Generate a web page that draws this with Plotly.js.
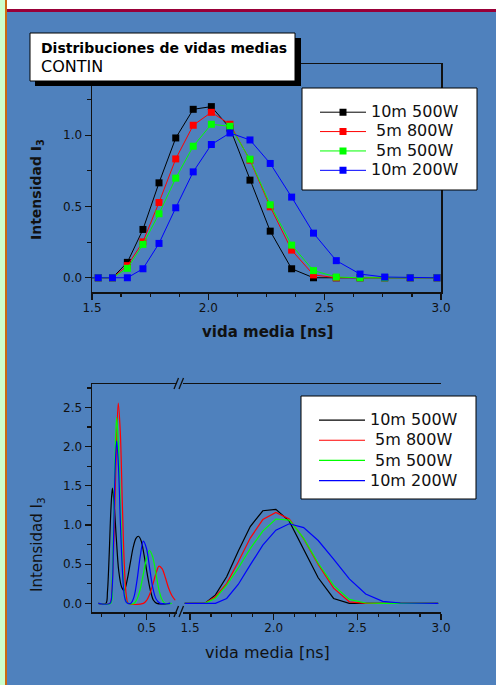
<!DOCTYPE html>
<html>
<head>
<meta charset="utf-8">
<script src="https://cdn.plot.ly/plotly-3.0.1.min.js"></script>
<style>html,body{margin:0;padding:0;background:#4F81BD;}#chart{width:496px;height:685px;}</style>
</head>
<body>
<div id="chart"></div>
<script>
// ---- data ----
const seriesNames = ["10m 500W", "5m 800W", "5m 500W", "10m 200W"];
const seriesColors = ["#000000", "#FF0000", "#00FF00", "#0000FF"];

// CONTIN lifetime grid (ns), long-lifetime component
const tauLong = [1.468, 1.527, 1.588, 1.652, 1.719, 1.788, 1.860, 1.935, 2.013, 2.093, 2.179, 2.266, 2.358, 2.452, 2.550, 2.652, 2.758, 2.868, 2.983];
const long10m500 = [0, 0, 0, 0.108, 0.339, 0.666, 0.981, 1.182, 1.201, 1.050, 0.685, 0.327, 0.063, 0, 0, 0, 0, 0, 0];
const long5m800  = [0, 0, 0, 0.085, 0.252, 0.528, 0.834, 1.070, 1.161, 1.077, 0.825, 0.498, 0.194, 0.020, 0, 0, 0, 0, 0];
const long5m500  = [0, 0, 0, 0.066, 0.234, 0.449, 0.699, 0.923, 1.077, 1.063, 0.832, 0.512, 0.229, 0.050, 0.005, 0, 0, 0, 0];
const long10m200 = [0, 0, 0, 0, 0.063, 0.241, 0.491, 0.743, 0.935, 1.016, 0.967, 0.802, 0.566, 0.313, 0.120, 0.026, 0.005, 0, 0];

// short-lifetime components (ns)
const tauShort10m500 = [0.284, 0.318, 0.325, 0.333, 0.340, 0.347, 0.355, 0.364, 0.375, 0.388, 0.400, 0.413, 0.427, 0.440, 0.452, 0.463, 0.475, 0.488, 0.502, 0.516, 0.530, 0.545, 0.605];
const short10m500    = [0, 0, 0.15, 0.65, 1.18, 1.47, 1.25, 0.85, 0.42, 0.21, 0.165, 0.30, 0.52, 0.72, 0.83, 0.857, 0.80, 0.62, 0.38, 0.17, 0.04, 0, 0];
const tauShort5m800  = [0.284, 0.336, 0.345, 0.354, 0.364, 0.373, 0.382, 0.391, 0.400, 0.409, 0.418, 0.485, 0.500, 0.515, 0.528, 0.541, 0.555, 0.569, 0.583, 0.597, 0.612, 0.627];
const short5m800     = [0, 0, 0.20, 0.85, 1.90, 2.556, 2.20, 1.30, 0.50, 0.10, 0, 0, 0.04, 0.13, 0.25, 0.38, 0.475, 0.44, 0.33, 0.20, 0.10, 0.04];
const tauShort5m500  = [0.284, 0.339, 0.346, 0.353, 0.360, 0.366, 0.374, 0.383, 0.392, 0.400, 0.409, 0.418, 0.443, 0.456, 0.470, 0.484, 0.498, 0.512, 0.526, 0.540, 0.554, 0.568, 0.582, 0.612];
const short5m500     = [0, 0, 0.30, 1.10, 2.00, 2.373, 2.00, 1.20, 0.50, 0.15, 0.02, 0, 0, 0.05, 0.17, 0.36, 0.56, 0.675, 0.60, 0.40, 0.18, 0.05, 0, 0];
const tauShort10m200 = [0.284, 0.336, 0.345, 0.352, 0.359, 0.366, 0.374, 0.383, 0.392, 0.400, 0.408, 0.416, 0.429, 0.443, 0.457, 0.471, 0.485, 0.499, 0.513, 0.527, 0.541, 0.560, 0.605];
const short10m200    = [0, 0, 0.15, 0.80, 1.70, 2.076, 1.75, 1.00, 0.40, 0.10, 0.02, 0, 0, 0.08, 0.30, 0.60, 0.794, 0.70, 0.45, 0.20, 0.06, 0, 0];

const xTopTicks = [1.5, 2.0, 2.5, 3.0];
const yTopTicks = [0.0, 0.5, 1.0];
const yBotTicks = [0.0, 0.5, 1.0, 1.5, 2.0, 2.5];

// ---- layout helpers (page pixels -> paper) ----
const W = 496, H = 685;
const px = v => v / W;
const py = v => 1 - v / H;
const FONT = "DejaVu Sans";
const INK = "#111111";

const longY = [long10m500, long5m800, long5m500, long10m200];
const shortX = [tauShort10m500, tauShort5m800, tauShort5m500, tauShort10m200];
const shortY = [short10m500, short5m800, short5m500, short10m200];

const legendLabel = i => '<span style="font-size:16px">' + ((i === 0 || i === 3) ? "" : "\u00a0") + seriesNames[i] + "</span>";

const traces = [];
for (let i = 0; i < 4; i++) {
  traces.push({
    x: tauLong, y: longY[i], xaxis: "x", yaxis: "y", type: "scatter", mode: "lines+markers",
    name: legendLabel(i),
    line: {color: seriesColors[i], width: 1},
    marker: {symbol: "square", size: 7, color: seriesColors[i]},
    legend: "legend", showlegend: true
  });
}
for (let i = 0; i < 4; i++) {
  traces.push({
    x: shortX[i], y: shortY[i], xaxis: "x3", yaxis: "y3", type: "scatter", mode: "lines",
    line: {color: seriesColors[i], width: 1.2, shape: "spline", smoothing: 0.9},
    showlegend: false, hoverinfo: "skip"
  });
}
for (let i = 0; i < 4; i++) {
  traces.push({
    x: tauLong, y: longY[i], xaxis: "x4", yaxis: "y3", type: "scatter", mode: "lines",
    name: legendLabel(i),
    line: {color: seriesColors[i], width: 1.2},
    legend: "legend2", showlegend: true
  });
}

const tickFont = {family: FONT, size: 12, color: INK};
const baseAxis = {
  showgrid: false, zeroline: false, showline: true, linecolor: INK, linewidth: 1.5,
  tickcolor: INK, tickwidth: 1.2, tickfont: tickFont, fixedrange: true
};

const layout = {
  width: W, height: H,
  margin: {l: 0, r: 0, t: 0, b: 0, pad: 0},
  paper_bgcolor: "#4F81BD", plot_bgcolor: "rgba(0,0,0,0)",
  font: {family: FONT, color: INK},
  // top panel
  xaxis: Object.assign({}, baseAxis, {
    domain: [px(92), px(441)], anchor: "y", range: [1.5, 3.0],
    tickmode: "array", tickvals: xTopTicks, ticktext: xTopTicks.map(v => v.toFixed(1)),
    ticks: "outside", ticklen: 6, mirror: true, ticklabelstandoff: -2,
    minor: {dtick: 0.125, tick0: 1.5, ticks: "outside", ticklen: 3.5, tickcolor: INK, tickwidth: 1.2, showgrid: false}
  }),
  yaxis: Object.assign({}, baseAxis, {
    domain: [py(292), py(64)], anchor: "x", range: [-0.1, 1.5],
    tickmode: "array", tickvals: yTopTicks, ticktext: yTopTicks.map(v => v.toFixed(1)),
    ticks: "outside", ticklen: 6, mirror: true,
    minor: {dtick: 0.25, tick0: 0, ticks: "outside", ticklen: 3.5, tickcolor: INK, tickwidth: 1.2, showgrid: false}
  }),
  xaxis2: {overlaying: "x", side: "top", anchor: "y", range: [1.5, 3.0], showgrid: false, zeroline: false,
    showline: false, showticklabels: false, ticks: "inside", ticklen: 5, tickwidth: 1.2, tickcolor: INK,
    tickmode: "linear", tick0: 1.5, dtick: 0.125, fixedrange: true},
  yaxis2: {overlaying: "y", side: "right", anchor: "x", range: [-0.1, 1.5], showgrid: false, zeroline: false,
    showline: false, showticklabels: false, ticks: "inside", ticklen: 5, tickwidth: 1.2, tickcolor: INK,
    tickmode: "linear", tick0: 0, dtick: 0.25, fixedrange: true},
  // bottom panel, left segment
  xaxis3: Object.assign({}, baseAxis, {
    domain: [px(92), px(177)], anchor: "y3", range: [0.256, 0.635],
    tickmode: "array", tickvals: [0.5], ticktext: ["0.5"],
    ticks: "outside", ticklen: 6, mirror: true, ticklabelstandoff: -2,
    minor: {tickmode: "array", tickvals: [0.3, 0.4, 0.6], ticks: "outside", ticklen: 3.5, tickcolor: INK, tickwidth: 1.2, showgrid: false}
  }),
  // bottom panel, right segment
  xaxis4: Object.assign({}, baseAxis, {
    domain: [px(183), px(441)], anchor: "y3", range: [1.458, 3.0],
    tickmode: "array", tickvals: xTopTicks, ticktext: xTopTicks.map(v => v.toFixed(1)),
    ticks: "outside", ticklen: 6, mirror: true, ticklabelstandoff: -2,
    minor: {dtick: 0.125, tick0: 1.5, ticks: "outside", ticklen: 3.5, tickcolor: INK, tickwidth: 1.2, showgrid: false}
  }),
  yaxis3: Object.assign({}, baseAxis, {
    domain: [py(612), py(384)], anchor: "x3", range: [-0.11, 2.8],
    tickmode: "array", tickvals: yBotTicks, ticktext: yBotTicks.map(v => v.toFixed(1)),
    ticks: "outside", ticklen: 6,
    minor: {dtick: 0.25, tick0: 0, ticks: "outside", ticklen: 3.5, tickcolor: INK, tickwidth: 1.2, showgrid: false}
  }),
  yaxis4: {overlaying: "y3", side: "right", anchor: "x4", range: [-0.11, 2.8], showgrid: false, zeroline: false,
    showline: true, linecolor: INK, linewidth: 1.5, showticklabels: false, ticks: "inside", ticklen: 5, tickwidth: 1.2, tickcolor: INK,
    tickmode: "linear", tick0: 0, dtick: 0.25, fixedrange: true},
  xaxis5: {overlaying: "x3", side: "top", anchor: "y3", range: [0.256, 0.635], showgrid: false, zeroline: false,
    showline: false, showticklabels: false, ticks: "inside", ticklen: 5, tickwidth: 1.2, tickcolor: INK,
    tickmode: "array", tickvals: [0.3, 0.4, 0.5, 0.6], fixedrange: true},
  xaxis6: {overlaying: "x4", side: "top", anchor: "y3", range: [1.458, 3.0], showgrid: false, zeroline: false,
    showline: false, showticklabels: false, ticks: "inside", ticklen: 5, tickwidth: 1.2, tickcolor: INK,
    tickmode: "linear", tick0: 1.5, dtick: 0.125, fixedrange: true},
  legend: {x: px(315), y: py(97.5), xanchor: "left", yanchor: "top", bgcolor: "rgba(0,0,0,0)", borderwidth: 0,
    font: {family: FONT, size: 12.6, color: INK}, itemwidth: 46, tracegroupgap: 0, itemclick: false, itemdoubleclick: false},
  legend2: {x: px(314), y: py(405), xanchor: "left", yanchor: "top", bgcolor: "rgba(0,0,0,0)", borderwidth: 0,
    font: {family: FONT, size: 13.2, color: INK}, itemwidth: 46, tracegroupgap: 0, itemclick: false, itemdoubleclick: false},
  shapes: [
    // page frame decoration
    {type: "rect", xref: "paper", yref: "paper", x0: 0, x1: px(5), y0: 0, y1: 1, fillcolor: "#CCFFCC", line: {width: 0}, layer: "below"},
    {type: "rect", xref: "paper", yref: "paper", x0: px(5), x1: px(7), y0: 0, y1: 1, fillcolor: "#CC6A10", line: {width: 0}, layer: "below"},
    {type: "rect", xref: "paper", yref: "paper", x0: px(7), x1: 1, y0: py(9), y1: 1, fillcolor: "#FFFFFF", line: {width: 0}, layer: "below"},
    {type: "rect", xref: "paper", yref: "paper", x0: px(7), x1: 1, y0: py(12), y1: py(9), fillcolor: "#990038", line: {width: 0}, layer: "below"},
    // title box with shadow
    {type: "rect", xref: "paper", yref: "paper", x0: px(35), x1: px(301), y0: py(86), y1: py(38), fillcolor: "#000000", line: {width: 0}, layer: "above"},
    {type: "rect", xref: "paper", yref: "paper", x0: px(30), x1: px(295), y0: py(81), y1: py(33), fillcolor: "#FFFFFF", line: {color: "#000000", width: 1}, layer: "above"},
    // legend boxes
    {type: "rect", xref: "paper", yref: "paper", x0: px(302), x1: px(477), y0: py(190), y1: py(88), fillcolor: "#FFFFFF", line: {color: "#000000", width: 1}, layer: "above"},
    {type: "rect", xref: "paper", yref: "paper", x0: px(301), x1: px(476), y0: py(499), y1: py(396), fillcolor: "#FFFFFF", line: {color: "#000000", width: 1}, layer: "above"},
    // axis break marks
    {type: "line", xref: "paper", yref: "paper", x0: px(174), y0: py(389), x1: px(178.5), y1: py(378), line: {color: INK, width: 1.3}, layer: "above"},
    {type: "line", xref: "paper", yref: "paper", x0: px(179), y0: py(389), x1: px(183.5), y1: py(378), line: {color: INK, width: 1.3}, layer: "above"},
    {type: "line", xref: "paper", yref: "paper", x0: px(174), y0: py(617), x1: px(178.5), y1: py(606), line: {color: INK, width: 1.3}, layer: "above"},
    {type: "line", xref: "paper", yref: "paper", x0: px(179), y0: py(617), x1: px(183.5), y1: py(606), line: {color: INK, width: 1.3}, layer: "above"}
  ],
  annotations: [
    {xref: "paper", yref: "paper", x: px(39), y: py(48), xanchor: "left", yanchor: "middle", showarrow: false,
      text: "<b>Distribuciones de vidas medias</b>", font: {family: FONT, size: 14, color: "#000"}},
    {xref: "paper", yref: "paper", x: px(39), y: py(67), xanchor: "left", yanchor: "middle", showarrow: false,
      text: "CONTIN", font: {family: FONT, size: 16, color: "#000"}},
    {xref: "paper", yref: "paper", x: px(37), y: py(190), xanchor: "center", yanchor: "middle", showarrow: false, textangle: -90,
      text: "<b>Intensidad I<sub>3</sub></b>", font: {family: FONT, size: 14, color: INK}},
    {xref: "paper", yref: "paper", x: px(267), y: py(332), xanchor: "center", yanchor: "middle", showarrow: false,
      text: "<b>vida media [ns]</b>", font: {family: FONT, size: 15, color: INK}},
    {xref: "paper", yref: "paper", x: px(37), y: py(545), xanchor: "center", yanchor: "middle", showarrow: false, textangle: -90,
      text: "Intensidad I<sub>3</sub>", font: {family: FONT, size: 15, color: INK}},
    {xref: "paper", yref: "paper", x: px(267), y: py(652), xanchor: "center", yanchor: "middle", showarrow: false,
      text: "vida media [ns]", font: {family: FONT, size: 16, color: INK}}
  ]
};

Plotly.newPlot("chart", traces, layout, {displayModeBar: false, staticPlot: true});
</script>
</body>
</html>
